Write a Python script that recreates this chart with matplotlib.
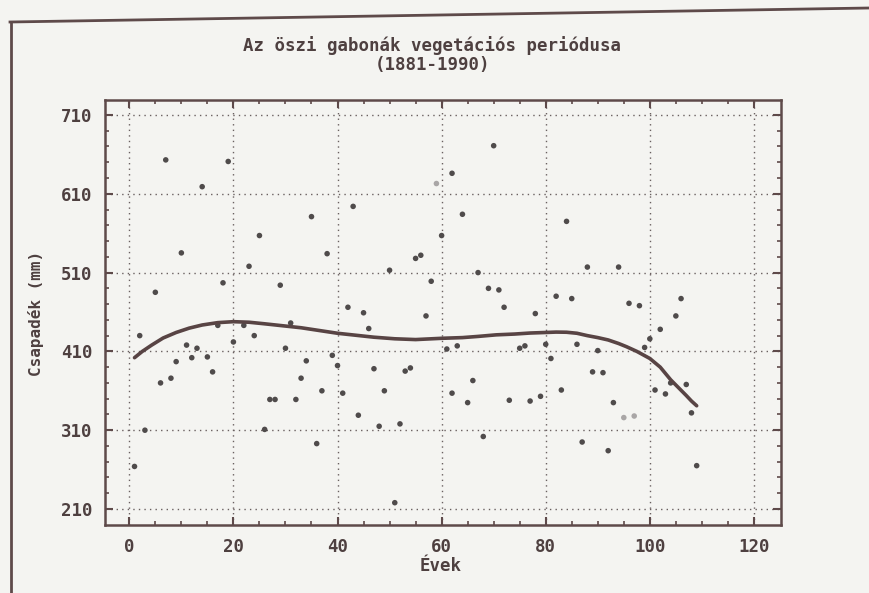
"""Az őszi gabonák vegetációs periódusa - csapadék 1881-1990, pontdiagram + trend."""

import matplotlib
matplotlib.use("Agg")
import matplotlib.pyplot as plt  # noqa: E402
from matplotlib.lines import Line2D  # noqa: E402

# évek (1 = 1881) és csapadék (mm)
years = [1, 2, 3, 5, 6, 7, 8, 9, 10, 11, 12, 13, 14, 15, 16, 17, 18, 19, 20,
         22, 23, 24, 25, 26, 27, 28, 29, 30, 31, 32, 33, 34, 35, 36, 37, 38,
         39, 40, 41, 42, 43, 44, 45, 46, 47, 48, 49, 50, 51, 52, 53, 54, 55,
         56, 57, 58, 59, 60, 61, 62, 62, 63, 64, 65, 66, 67, 68, 69, 70, 71,
         72, 73, 75, 76, 77, 78, 79, 80, 81, 82, 83, 84, 85, 86, 87, 88, 89,
         90, 91, 92, 93, 94, 95, 96, 97, 98, 99, 100, 101, 102, 103, 104, 105,
         106, 107, 108, 109]
precip = [264, 430, 310, 485, 370, 653, 376, 397, 535, 418, 402, 414, 619, 403,
          384, 443, 497, 651, 422, 443, 518, 430, 557, 311, 349, 349, 494, 414,
          446, 349, 376, 398, 581, 293, 360, 534, 405, 392, 357, 466, 594, 329,
          459, 439, 388, 315, 360, 513, 218, 318, 385, 389, 528, 532, 455, 499,
          623, 557, 413, 636, 357, 417, 584, 345, 373, 510, 302, 490, 671, 488,
          466, 348, 414, 417, 347, 458, 353, 419, 401, 480, 361, 575, 477, 419,
          295, 517, 384, 411, 383, 284, 345, 517, 326, 471, 328, 468, 415, 426,
          361, 438, 356, 370, 455, 477, 368, 332, 265]
# halványan nyomtatott pontok
faint_years = [59, 95, 97]

# trendgörbe, leolvasva
trend_x = [1, 2.5, 4.3, 6.5, 9, 11.5, 14, 17, 20, 23, 26, 29.5, 33, 36.5, 40,
           43.5, 47, 51, 55, 60, 64, 67, 70.5, 74, 77, 80, 82, 84, 86, 88, 90,
           92, 94, 95.5, 97.5, 100, 102, 104, 105.5, 107, 108, 109]
trend_y = [402, 410, 418, 427, 434, 439.5, 443.5, 446.5, 447.7, 447, 445,
           442.5, 440, 436.5, 433, 430.5, 428, 426, 425, 426.6, 427.5, 429,
           431, 432, 433.3, 434, 434.5, 434.3, 433, 430, 427.5, 424.5, 420,
           416, 410, 401, 390, 374, 364, 354, 347, 341]

x_ticks = [0, 20, 40, 60, 80, 100, 120]
y_ticks = [210, 310, 410, 510, 610, 710]

title = "Az öszi gabonák vegetációs periódusa\n(1881-1990)"
x_label = "Évek"
y_label = "Csapadék (mm)"

INK = "#4e4040"
FRAME = "#5e4a4a"
DOT = "#4f4b4b"
BG = "#f4f4f1"

plt.rcParams["font.family"] = ["DejaVu Sans Mono", "DejaVu Sans"]
plt.rcParams["font.weight"] = "bold"

fig = plt.figure(figsize=(8.69, 5.93), dpi=100, facecolor=BG)
ax = fig.add_axes([105 / 869, 1 - 525 / 593, 676 / 869, 425 / 593])
ax.set_facecolor(BG)

ax.set_xlim(-4.67, 125.2)
ax.set_ylim(189.7, 729)
ax.set_xticks(x_ticks)
ax.set_yticks(y_ticks)
ax.set_xticks(range(0, 125, 5), minor=True)
ax.set_yticks(range(210, 730, 20), minor=True)
ax.tick_params(which="both", direction="in", top=True, right=True,
               color=FRAME, labelcolor=INK, labelsize=12.5)
ax.tick_params(which="major", length=6, width=1.5)
ax.tick_params(which="minor", length=3, width=1.2)
ax.tick_params(axis="x", pad=9)
ax.tick_params(axis="y", pad=9)
for s in ax.spines.values():
    s.set_color(FRAME)
    s.set_linewidth(1.8)

ax.grid(True, which="major", color="#6a6060", linestyle=(0, (1, 3)),
        linewidth=1.0)
ax.set_axisbelow(True)

cols = ["#a9a6a6" if y in faint_years else DOT for y in years]
ax.scatter(years, precip, s=16, c=cols, edgecolors="none", zorder=3)
ax.plot(trend_x, trend_y, color="#584444", linewidth=2.6,
        solid_capstyle="round", zorder=4)

fig.text(432 / 869, 1 - 55 / 593, title, ha="center", va="center",
         fontsize=12.5, color=INK, linespacing=1.05)
fig.text(441 / 869, 1 - 566 / 593, x_label, ha="center", va="center",
         fontsize=12.5, color=INK)
fig.text(36 / 869, 1 - 313 / 593, y_label, ha="center", va="center",
         rotation=90, fontsize=11.5, color=INK)

# a beszkennelt lap kerete
fig.add_artist(Line2D([10 / 869, 1.0], [1 - 22 / 593, 1 - 8 / 593],
                      color=FRAME, linewidth=2.0))
fig.add_artist(Line2D([11 / 869, 11 / 869], [0, 1 - 22 / 593],
                      color=FRAME, linewidth=2.0))

fig.savefig("out.png", dpi=100, facecolor=BG)
